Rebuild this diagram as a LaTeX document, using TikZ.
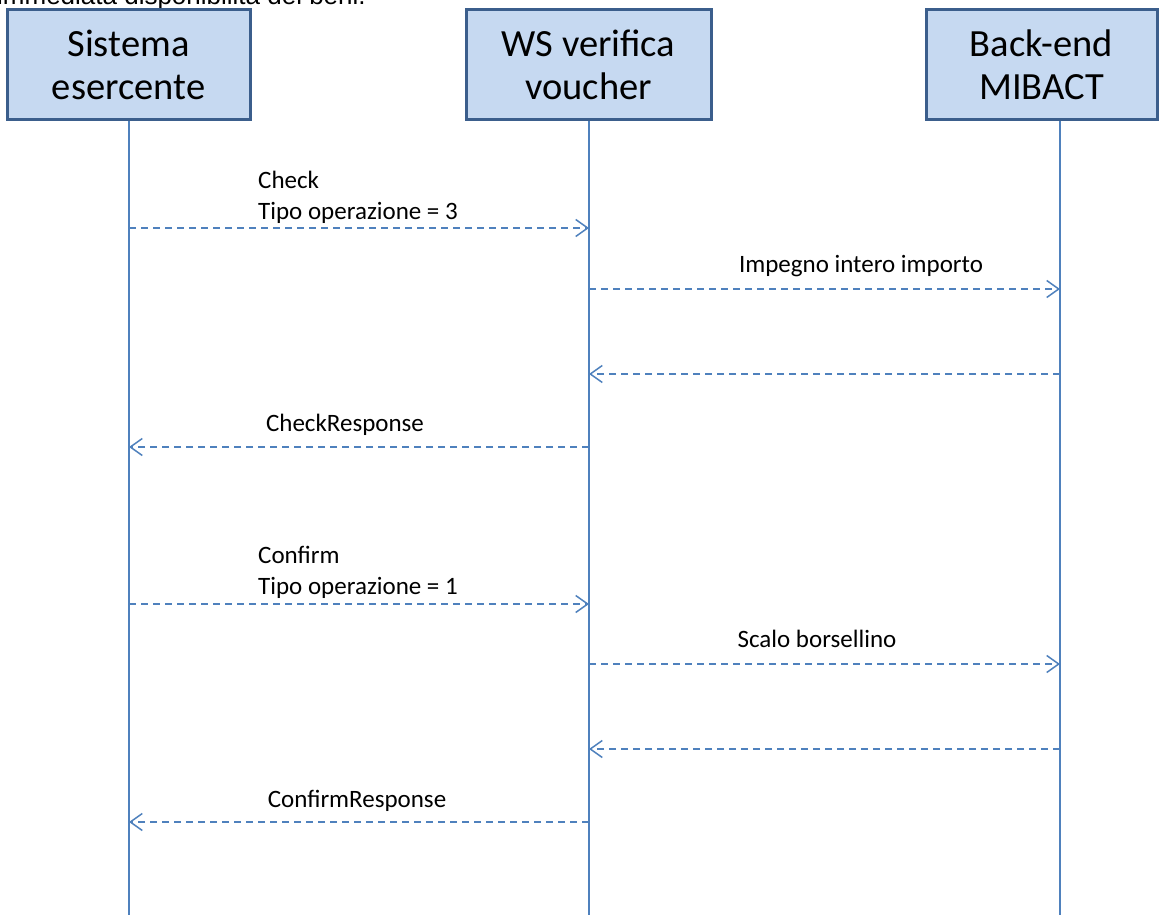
\documentclass[tikz,border=0pt]{standalone}
\usepackage{fontspec}
\setmainfont{Carlito}
\newfontfamily\arialf{Liberation Sans}
\usetikzlibrary{arrows.meta}
\definecolor{boxfill}{HTML}{C6D9F1}
\definecolor{boxline}{HTML}{3B5E8C}
\definecolor{lifeline}{HTML}{4F81BD}
\begin{document}
\begin{tikzpicture}[x=1pt,y=-1pt,
  actor/.style={draw=boxline,line width=3pt,fill=boxfill,minimum width=243pt,minimum height=110pt,
    align=center,font=\fontsize{38.5}{43}\selectfont,inner sep=0pt},
  lline/.style={draw=lifeline,line width=1.8pt},
  msg/.style={draw=lifeline,line width=1.5pt,dash pattern=on 7pt off 5pt,
    -{Straight Barb[length=12pt,width=17pt,line width=1.5pt]}},
  lbl/.style={font=\fontsize{25}{31}\selectfont,inner sep=0pt,align=left}]
\useasboundingbox (0,0) rectangle (1161,915);
\clip (0,0) rectangle (1161,915);
\node[anchor=base west,font=\arialf\fontsize{26}{30}\selectfont,inner sep=0pt] (top) at (-3,5) {immediata disponibilità dei beni.};
\node[actor] (A) at (128.5,65) {Sistema\\esercente};
\node[actor,minimum width=245pt] (B) at (588.5,65) {WS verifica\\voucher};
\node[actor,minimum width=231pt] (C) at (1041.5,65) {Back-end\\MIBACT};
\coordinate (Ae) at (129,915);
\coordinate (Be) at (589,915);
\coordinate (Ce) at (1060,915);
\draw[lline] (A.south -| Ae) -- (Ae);
\draw[lline] (B.south -| Be) -- (Be);
\draw[lline] (C.south -| Ce) -- (Ce);
% messages
\coordinate (a1) at (129,228); \coordinate (b1) at (589,228);
\coordinate (b2) at (589,289); \coordinate (c2) at (1060,289);
\coordinate (c3) at (1060,374); \coordinate (b3) at (589,374);
\coordinate (b4) at (589,447); \coordinate (a4) at (129,447);
\coordinate (a5) at (129,604); \coordinate (b5) at (589,604);
\coordinate (b6) at (589,664); \coordinate (c6) at (1060,664);
\coordinate (c7) at (1060,749); \coordinate (b7) at (589,749);
\coordinate (b8) at (589,822); \coordinate (a8) at (129,822);
\draw[msg] (a1) -- (b1);
\draw[msg] (b2) -- (c2);
\draw[msg] (c3) -- (b3);
\draw[msg] (b4) -- (a4);
\draw[msg] (a5) -- (b5);
\draw[msg] (b6) -- (c6);
\draw[msg] (c7) -- (b7);
\draw[msg] (b8) -- (a8);
\node[lbl,anchor=base west] (l1) at (258,219) {Check\\Tipo operazione = 3};
\node[lbl,anchor=base] (l2) at (861,272) {Impegno intero importo};
\node[lbl,anchor=base] (l4) at (345,431) {CheckResponse};
\node[lbl,anchor=base west] (l5) at (258,594) {Confirm\\Tipo operazione = 1};
\node[lbl,anchor=base] (l6) at (817,647) {Scalo borsellino};
\node[lbl,anchor=base] (l8) at (357,807) {ConfirmResponse};
\end{tikzpicture}
\end{document}
